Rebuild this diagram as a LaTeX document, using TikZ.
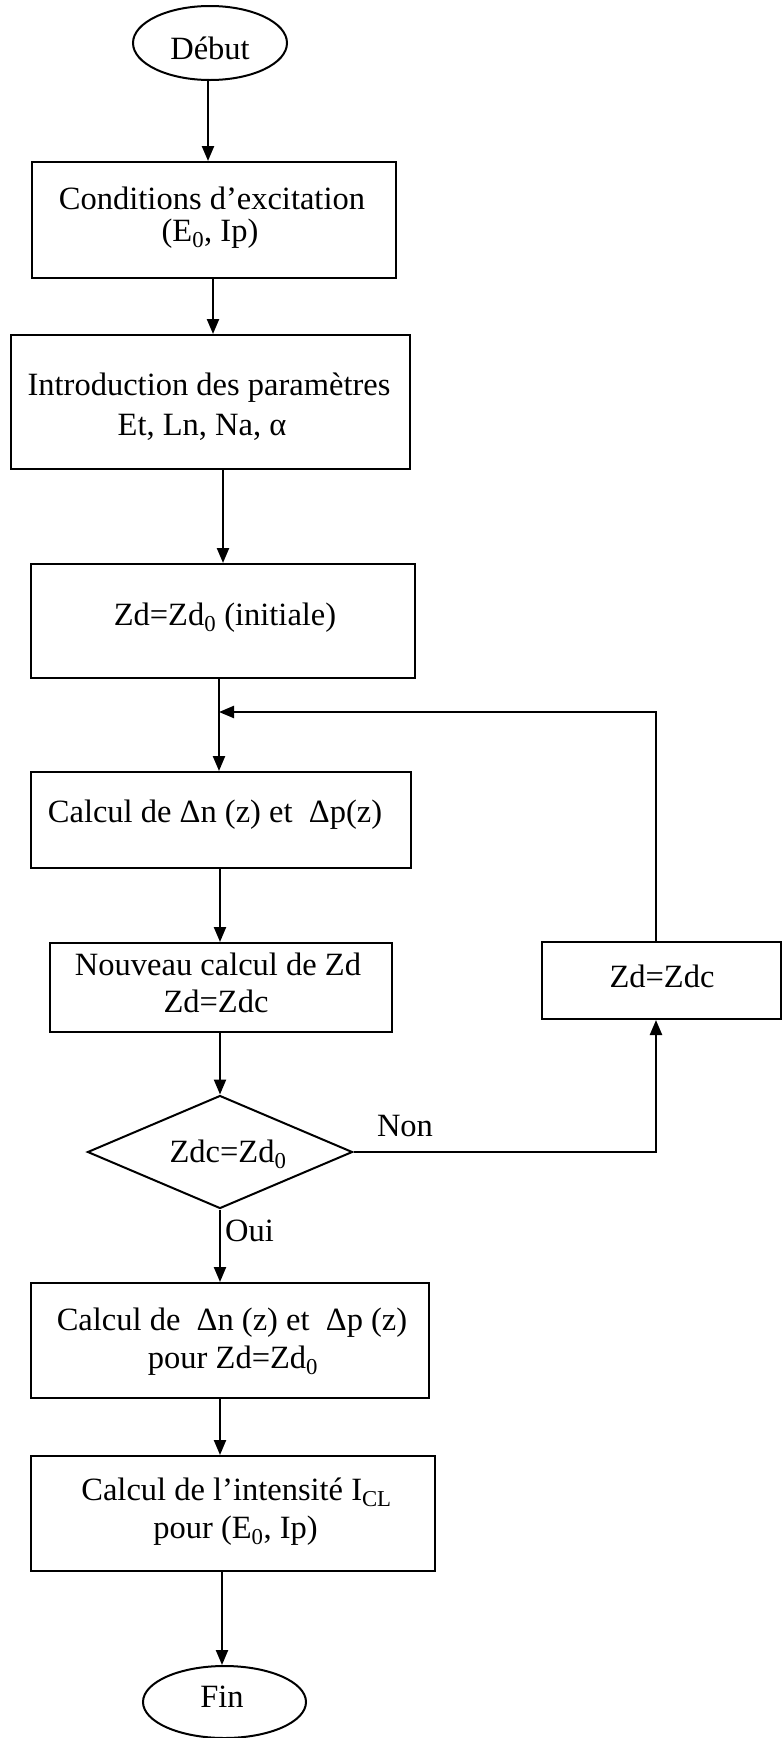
\documentclass[tikz,border=0pt]{standalone}
\usepackage{fontspec}
\setmainfont{Liberation Serif}
\usetikzlibrary{shapes.geometric,arrows.meta}
\begin{document}
\begin{tikzpicture}[x=1pt,y=-1pt,
  box/.style={draw, line width=2pt, rectangle, inner sep=0pt},
  oval/.style={draw, line width=2pt, ellipse, inner sep=0pt},
  dia/.style={draw, line width=2pt, diamond, inner sep=0pt},
  txt/.style={anchor=base, inner sep=0pt, font=\fontsize{32.5}{38}\selectfont},
  arr/.style={line width=2.3pt, -{Triangle[length=15pt,width=12pt]}}]
\useasboundingbox (0,0) rectangle (782,1738);

% shapes
\node[oval, minimum width=154pt, minimum height=74pt] (deb) at (210,43) {};
\node[txt] (tdeb) at (210,59) {Début};

\node[box, minimum width=364pt, minimum height=116pt] (b1) at (214,220) {};
\node[txt] (t1a) at (212,209) {Conditions d’excitation};
\node[txt] (t1b) at (210,241) {(E\textsubscript{0}, Ip)};

\node[box, minimum width=399pt, minimum height=134pt] (b2) at (210.5,402) {};
\node[txt] (t2a) at (209,395) {Introduction des paramètres};
\node[txt] (t2b) at (202,435) {Et, Ln, Na, α};

\node[box, minimum width=384pt, minimum height=114pt] (b3) at (223,621) {};
\node[txt] (t3) at (225,625) {Zd=Zd\textsubscript{0} (initiale)};

\node[box, minimum width=380pt, minimum height=96pt] (b4) at (221,820) {};
\node[txt] (t4) at (215,822) {Calcul de Δn (z) et \ Δp(z)};

\node[box, minimum width=342pt, minimum height=89pt] (b5) at (220.5,987.5) {};
\node[txt] (t5a) at (218,975) {Nouveau calcul de Zd};
\node[txt] (t5b) at (216,1012) {Zd=Zdc};

\node[box, minimum width=239pt, minimum height=77pt] (b6) at (661.5,980.5) {};
\node[txt] (t6) at (662,987) {Zd=Zdc};

\node[dia, minimum width=265pt, minimum height=113pt] (d) at (220,1152) {};
\node[txt] (td) at (228,1162) {Zdc=Zd\textsubscript{0}};
\node[txt] (non) at (405,1136) {Non};
\node[txt, anchor=base west] (oui) at (225,1241) {Oui};

\node[box, minimum width=398pt, minimum height=115pt] (b7) at (230,1340.5) {};
\node[txt] (t7a) at (232,1330) {Calcul de \ Δn (z) et \ Δp (z)};
\node[txt] (t7b) at (233,1368) {pour Zd=Zd\textsubscript{0}};

\node[box, minimum width=404pt, minimum height=115pt] (b8) at (233,1513.5) {};
\node[txt] (t8a) at (236.5,1500) {Calcul de l’intensité I\textsubscript{CL}};
\node[txt] (t8b) at (235.5,1538) {pour (E\textsubscript{0}, Ip)};

\node[oval, minimum width=163pt, minimum height=72pt] (fin) at (224.5,1702) {};
\node[txt] (tfin) at (222,1707) {Fin};

% connector columns
\coordinate (x1) at (208,0);
\coordinate (x2) at (213,0);
\coordinate (x3) at (223,0);
\coordinate (j) at (219,712);
\coordinate (x5) at (220,0);
\coordinate (x8) at (220,0);
\coordinate (x9) at (222,0);
\coordinate (rx) at (656,0);

% connectors
\draw[arr] (deb.south -| x1) -- (b1.north -| x1);
\draw[arr] (b1.south -| x2) -- (b2.north -| x2);
\draw[arr] (b2.south -| x3) -- (b3.north -| x3);
\draw[arr] (b3.south -| j) -- (b4.north -| j);
\draw[arr] (b6.north -| rx) |- (j);
\draw[arr] (b4.south -| x5) -- (b5.north -| x5);
\draw[arr] (b5.south -| d.north) -- (d.north);
\draw[arr] (d.east) -| (b6.south -| rx);
\draw[arr] (d.south) -- (b7.north -| d.south);
\draw[arr] (b7.south -| x8) -- (b8.north -| x8);
\draw[arr] (b8.south -| x9) -- (fin.north -| x9);
\end{tikzpicture}
\end{document}
